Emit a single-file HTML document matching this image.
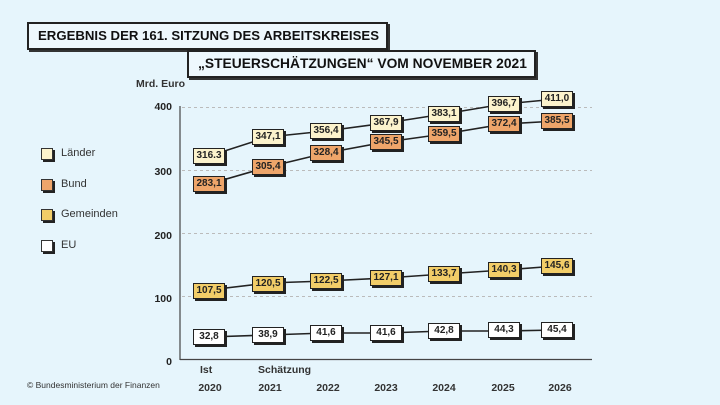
<!DOCTYPE html>
<html><head><meta charset="utf-8"><style>
body{margin:0;width:720px;height:405px;background:#e6f5fc;position:relative;overflow:hidden;font-family:"Liberation Sans","DejaVu Sans",sans-serif;}
.t{position:absolute;border:2px solid #222;background:#eef8fd;font-weight:bold;color:#111;box-shadow:2px 2px 0 #333;box-sizing:border-box;line-height:24px;padding-left:9px;white-space:nowrap}
.b{position:absolute;width:32px;height:16px;border:1px solid #222;box-shadow:2px 2px 0 #222;box-sizing:border-box;font-size:10px;font-weight:bold;text-align:center;line-height:14px;color:#222}
.L{background:#fcf3cc}.B{background:#eea56a}.G{background:#f2cd68}.E{background:#fff}
.lg{position:absolute;left:41px;width:12px;height:12px;border:1px solid #333;box-shadow:2px 2px 0 #222;box-sizing:border-box}
.lt{position:absolute;left:61px;font-size:11px;color:#333}
.yl{position:absolute;width:30px;left:142px;text-align:right;font-size:10.5px;font-weight:bold;color:#222}
.xl{position:absolute;font-size:10.5px;font-weight:bold;color:#333;text-align:center;width:60px}
</style></head><body>
<div class="t" style="left:27px;top:22px;width:361px;height:28px;font-size:13.2px">ERGEBNIS DER 161. SITZUNG DES ARBEITSKREISES</div>
<div class="t" style="left:187px;top:50px;width:349px;height:28px;font-size:13.8px">„STEUERSCHÄTZUNGEN“ VOM NOVEMBER 2021</div>
<div style="position:absolute;left:136px;top:78px;font-size:10.5px;font-weight:bold;color:#333">Mrd. Euro</div>
<svg width="720" height="405" style="position:absolute;left:0;top:0">
<g stroke="#bbb" stroke-dasharray="3,3" stroke-width="1">
<line x1="182" y1="107.5" x2="592" y2="107.5"/><line x1="182" y1="170.5" x2="592" y2="170.5"/><line x1="182" y1="233.5" x2="592" y2="233.5"/><line x1="182" y1="296.5" x2="592" y2="296.5"/></g>
<line x1="180" y1="106" x2="180" y2="360" stroke="#444" stroke-width="1.2"/>
<line x1="180" y1="359.5" x2="592" y2="359.5" stroke="#444" stroke-width="1.2"/>
<g stroke="#222" stroke-width="1.6" fill="none">
<polyline points="209,156 268,137 326,131 386,123 444,114 504,104 557,99"/>
<polyline points="209,184 268,167 326,153 386,142 444,134 504,124 557,121"/>
<polyline points="209,290 268,283 326,281 386,278 444,274 504,270 557,266"/>
<polyline points="209,337 268,335 326,333 386,333 444,331 504,331 557,330"/>
</g></svg>
<div class="yl" style="top:101px">400</div><div class="yl" style="top:166px">300</div><div class="yl" style="top:230px">200</div><div class="yl" style="top:293px">100</div><div class="yl" style="top:356px">0</div>
<div class="lg L" style="top:148px"></div><div class="lt" style="top:147px">Länder</div>
<div class="lg B" style="top:179px"></div><div class="lt" style="top:178px">Bund</div>
<div class="lg G" style="top:209px"></div><div class="lt" style="top:208px">Gemeinden</div>
<div class="lg E" style="top:240px"></div><div class="lt" style="top:239px">EU</div>
<div class="b L" style="left:193px;top:148px">316.3</div>
<div class="b L" style="left:252px;top:129px">347,1</div>
<div class="b L" style="left:310px;top:123px">356,4</div>
<div class="b L" style="left:370px;top:115px">367,9</div>
<div class="b L" style="left:428px;top:106px">383,1</div>
<div class="b L" style="left:488px;top:96px">396,7</div>
<div class="b L" style="left:541px;top:91px">411,0</div>
<div class="b B" style="left:193px;top:176px">283,1</div>
<div class="b B" style="left:252px;top:159px">305,4</div>
<div class="b B" style="left:310px;top:145px">328,4</div>
<div class="b B" style="left:370px;top:134px">345,5</div>
<div class="b B" style="left:428px;top:126px">359,5</div>
<div class="b B" style="left:488px;top:116px">372,4</div>
<div class="b B" style="left:541px;top:113px">385,5</div>
<div class="b G" style="left:193px;top:283px">107,5</div>
<div class="b G" style="left:252px;top:276px">120,5</div>
<div class="b G" style="left:310px;top:273px">122,5</div>
<div class="b G" style="left:370px;top:270px">127,1</div>
<div class="b G" style="left:428px;top:266px">133,7</div>
<div class="b G" style="left:488px;top:262px">140,3</div>
<div class="b G" style="left:541px;top:258px">145,6</div>
<div class="b E" style="left:193px;top:329px">32,8</div>
<div class="b E" style="left:252px;top:327px">38,9</div>
<div class="b E" style="left:310px;top:325px">41,6</div>
<div class="b E" style="left:370px;top:325px">41,6</div>
<div class="b E" style="left:428px;top:323px">42,8</div>
<div class="b E" style="left:488px;top:322px">44,3</div>
<div class="b E" style="left:541px;top:322px">45,4</div>
<div class="xl" style="left:180px;top:364px;width:40px;text-align:left;padding-left:20px">Ist</div>
<div class="xl" style="left:258px;top:364px;text-align:left">Schätzung</div>
<div class="xl" style="left:180px;top:382px">2020</div>
<div class="xl" style="left:240px;top:382px">2021</div>
<div class="xl" style="left:298px;top:382px">2022</div>
<div class="xl" style="left:356px;top:382px">2023</div>
<div class="xl" style="left:414px;top:382px">2024</div>
<div class="xl" style="left:473px;top:382px">2025</div>
<div class="xl" style="left:530px;top:382px">2026</div>
<div style="position:absolute;left:27px;top:380px;font-size:8.5px;color:#333">© Bundesministerium der Finanzen</div>
</body></html>
